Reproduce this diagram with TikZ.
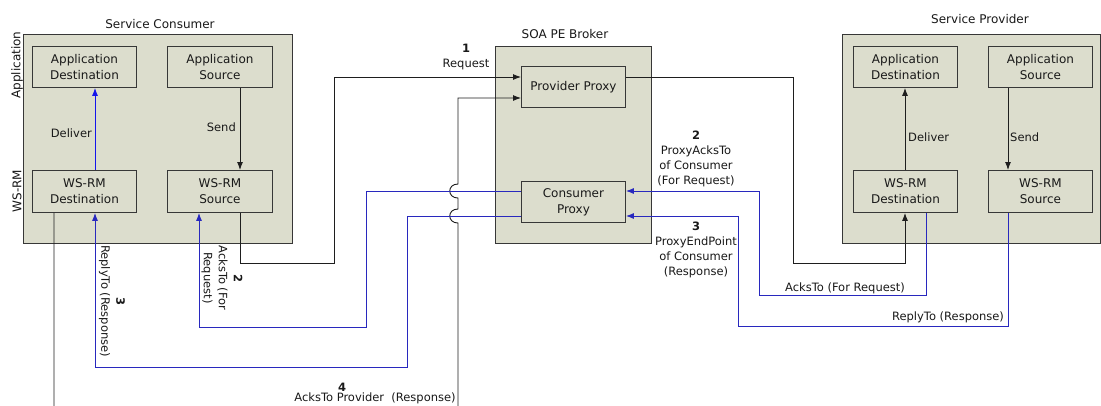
\documentclass[tikz,border=0pt]{standalone}
\usepackage{fontspec}
\setmainfont{DejaVu Sans}
\usetikzlibrary{arrows.meta}
\definecolor{boxfill}{RGB}{220,221,205}
\definecolor{boxline}{RGB}{55,55,55}
\definecolor{lineblk}{RGB}{30,30,30}
\definecolor{lineblue}{RGB}{40,40,190}
\definecolor{brightblue}{RGB}{20,20,235}
\definecolor{txt}{RGB}{25,25,25}
\begin{document}
\begin{tikzpicture}[x=1pt,y=-1pt,
  outerbox/.style={draw=boxline, fill=boxfill, line width=0.9pt, anchor=north west, inner sep=0pt},
  innerbox/.style={draw=boxline, fill=boxfill, line width=0.9pt, anchor=north west, inner sep=0pt,
    minimum width=104pt, minimum height=41pt, align=center, text=txt, font=\fontsize{12}{16}\selectfont},
  title/.style={text=txt, font=\fontsize{12}{15}\selectfont, inner sep=0pt},
  lbl/.style={text=txt, font=\fontsize{11.5}{15}\selectfont, inner sep=0pt, align=center},
  blk/.style={draw=lineblk, line width=0.9pt},
  blu/.style={draw=lineblue, line width=0.9pt},
  tipb/.style={-{Latex[length=8pt,width=6pt]}},
]
\clip (0,0) rectangle (1101,405);
\fill[white] (0,0) rectangle (1101,405);

% outer containers
\node[outerbox, minimum width=269pt, minimum height=209pt] (consumer) at (23,34) {};
\node[outerbox, minimum width=156pt, minimum height=197pt] (broker) at (495,46) {};
\node[outerbox, minimum width=258pt, minimum height=209pt] (provider) at (842,34) {};

% titles
\node[title] (tcons) at (160,24) {Service Consumer};
\node[title] (tbrok) at (565,34) {SOA PE Broker};
\node[title] (tprov) at (980,19) {Service Provider};
\node[title, rotate=90] (tapp) at (17,65) {Application};
\node[title, rotate=90] (twsrm) at (17,191) {WS-RM};

% consumer boxes
\node[innerbox] (cAD) at (32,46) {Application\\Destination};
\node[innerbox, minimum width=105pt] (cAS) at (167,46) {Application\\Source};
\node[innerbox, minimum height=42pt] (cWD) at (32,170) {WS-RM\\Destination};
\node[innerbox, minimum width=105pt, minimum height=42pt] (cWS) at (167,170) {WS-RM\\Source};

% broker boxes
\node[innerbox] (PP) at (521,66) {Provider Proxy};
\node[innerbox] (CP) at (521,181) {Consumer\\Proxy};

% provider boxes
\node[innerbox] (pAD) at (853,46) {Application\\Destination};
\node[innerbox] (pAS) at (988,46) {Application\\Source};
\node[innerbox, minimum height=42pt] (pWD) at (853,170) {WS-RM\\Destination};
\node[innerbox, minimum height=42pt] (pWS) at (988,170) {WS-RM\\Source};

% helper coordinates
\coordinate (x54) at (54,0);
\coordinate (x95) at (95,0);
\coordinate (x199) at (199,0);
\coordinate (x240) at (240,0);
\coordinate (x905) at (905,0);
\coordinate (x926) at (926,0);
\coordinate (x1008) at (1008,0);
\coordinate (y77) at (0,77);
\coordinate (y98) at (0,98);
\coordinate (y191) at (0,191);
\coordinate (y216) at (0,216);

% consumer internal
\draw[blk, tipb] (cAS.south -| x240) -- (cWS.north -| x240);
\draw[draw=brightblue, line width=0.9pt, tipb] (cWD.north -| x95) -- (cAD.south -| x95);
\node[lbl, anchor=east] (lcdel) at (92,133) {Deliver};
\node[lbl, anchor=east] (lcsend) at (236,127) {Send};

% provider internal
\draw[blk, tipb] (pWD.north -| x905) -- (pAD.south -| x905);
\draw[blk, tipb] (pAS.south -| x1008) -- (pWS.north -| x1008);
\node[lbl, anchor=west] (lpdel) at (908,137) {Deliver};
\node[lbl, anchor=west] (lpsend) at (1010,137) {Send};

% 1 Request
\draw[blk, tipb] (cWS.south -| x240) -- (240,263) -- (334,263) -- (334,77) -- (PP.west |- y77);
\node[lbl] (lreq) at (466,57) {\textbf{1}\\Request};

% Provider proxy to provider WS-RM destination
\draw[blk, tipb] (PP.east |- y77) -- (793,77) -- (793,263) -- (905,263) -- (pWD.south -| x905);

% 4 AcksTo Provider (Response)
\draw[blk, tipb] (cWD.south -| x54) -- (54,425) -- (458,425) -- (458,223)
  .. controls (447,223) and (447,209) .. (458,209) -- (458,198)
  .. controls (447,198) and (447,184) .. (458,184) -- (458,98) -- (PP.west |- y98);
\node[lbl] (l4num) at (342,387) {\textbf{4}};
\node[lbl] (l4) at (375,398) {AcksTo Provider\ \ (Response)};

% 2 AcksTo (For Request)
\draw[blu, tipb] (pWD.south -| x926) -- (926,295) -- (759,295) -- (759,191) -- (CP.east |- y191);
\draw[blu, tipb] (CP.west |- y191) -- (366,191) -- (366,327) -- (199,327) -- (cWS.south -| x199);
\node[lbl] (lpack) at (696,159) {\textbf{2}\\ProxyAcksTo\\of Consumer\\(For Request)};
\node[lbl] (lackreq) at (845,288) {AcksTo (For Request)};
\node[lbl, rotate=-90] (lcack) at (222,278) {\textbf{2}\\AcksTo (For\\Request)};

% 3 ReplyTo (Response)
\draw[blu, tipb] (pWS.south -| x1008) -- (1008,326) -- (738,326) -- (738,216) -- (CP.east |- y216);
\draw[blu, tipb] (CP.west |- y216) -- (407,216) -- (407,367) -- (95,367) -- (cWD.south -| x95);
\node[lbl] (lpend) at (696,250) {\textbf{3}\\ProxyEndPoint\\of Consumer\\(Response)};
\node[lbl] (lreply) at (948,317) {ReplyTo (Response)};
\node[lbl, rotate=-90] (lcreply) at (112,301) {\textbf{3}\\ReplyTo (Response)};
\end{tikzpicture}
\end{document}
